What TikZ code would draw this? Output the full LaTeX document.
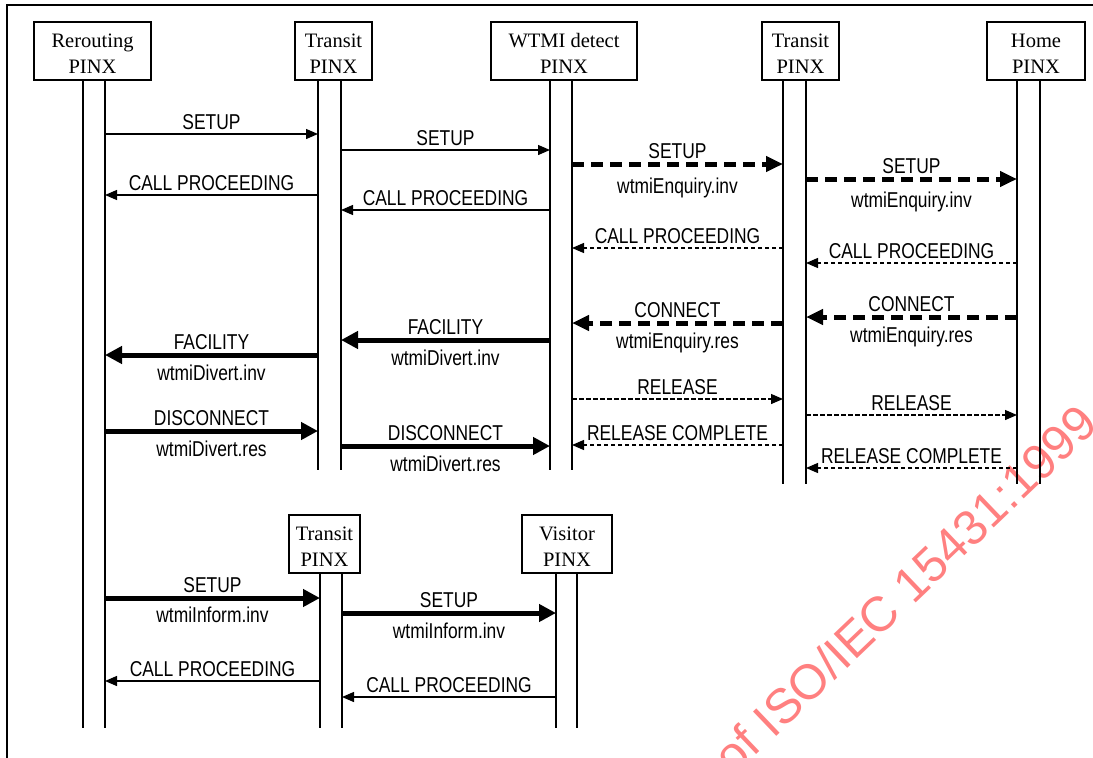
\documentclass[tikz,border=0pt]{standalone}
\usepackage{fontspec}
\setmainfont{Liberation Serif}
\newfontfamily\msgfont[FakeStretch=0.81]{Liberation Sans}
\newfontfamily\wmfont{Liberation Sans}
\usetikzlibrary{arrows.meta,calc}
\definecolor{wmred}{RGB}{255,128,128}
\tikzset{
  pinx/.style={draw, line width=2pt, inner sep=0pt, align=center,
    minimum height=58pt, text height=45pt, text depth=0pt,
    font=\fontsize{20.5}{26}\selectfont},
  life/.style={line width=1.8pt},
  thinmsg/.style={line width=1.3pt, -{Triangle[length=12pt,width=10pt]}},
  thinmsgdash/.style={thinmsg, dash pattern=on 4.5pt off 2.5pt},
  thickmsg/.style={line width=5pt, -{Triangle[length=17pt,width=17pt]}},
  thickmsgdash/.style={line width=5pt, dash pattern=on 12pt off 7pt,
    -{Triangle[length=17pt,width=15pt]}},
  lab/.style={font=\msgfont\fontsize{21.5}{24}\selectfont, inner sep=0pt, anchor=base},
  frame/.style={line width=2.4pt},
}
% one-label message: name, style, from, to, y, text
\newcommand\msgA[6]{%
  \draw[#2] (#3 |- 0,#5) -- coordinate[midway] (#1m) (#4 |- 0,#5);
  \node[lab, yshift=5pt] (#1u) at (#1m) {#6};
}
% two-label message: name, style, from, to, y, upper, lower, lower offset
\newcommand\msgB[8]{%
  \draw[#2] (#3 |- 0,#5) -- coordinate[midway] (#1m) (#4 |- 0,#5);
  \node[lab, yshift=6pt] (#1u) at (#1m) {#6};
  \node[lab, yshift=-#8pt] (#1l) at (#1m) {#7};
}
\begin{document}
\begin{tikzpicture}[x=1pt, y=-1pt]
\useasboundingbox (0,0) rectangle (1093,758);
\begin{scope}
\clip (0,0) rectangle (1093,758);
% watermark
\node[rotate=43.7, text=wmred, font=\wmfont\fontsize{49}{53}\selectfont, inner sep=0pt] (wm) at (905,589) {of ISO/IEC 15431:1999};
% frame
\draw[frame] (7,760) -- (7,5) -- (1095,5);
\end{scope}

% boxes
\node[pinx, minimum width=117pt] (R)  at (92.5,51) {Rerouting\\PINX};
\node[pinx, minimum width=77pt]  (T1) at (333.5,51) {Transit\\PINX};
\node[pinx, minimum width=146pt] (W)  at (564,51) {WTMI detect\\PINX};
\node[pinx, minimum width=77pt]  (T2) at (800.5,51) {Transit\\PINX};
\node[pinx, minimum width=98pt]  (H)  at (1036,51) {Home\\PINX};
\node[pinx, minimum width=71pt]  (T3) at (324.5,544) {Transit\\PINX};
\node[pinx, minimum width=90pt]  (V)  at (567,544) {Visitor\\PINX};

% lifeline coordinates
\coordinate (Ra) at (83,80);   \coordinate (Rb) at (105,80);
\coordinate (T1a) at (318,80); \coordinate (T1b) at (341,80);
\coordinate (Wa) at (550,80);  \coordinate (Wb) at (572,80);
\coordinate (T2a) at (783,80); \coordinate (T2b) at (806,80);
\coordinate (Ha) at (1017,80); \coordinate (Hb) at (1040,80);
\coordinate (T3a) at (320,573); \coordinate (T3b) at (342,573);
\coordinate (Va) at (556,573);  \coordinate (Vb) at (577,573);

\foreach \c in {Ra,Rb} \draw[life] (\c) -- (\c |- 0,728);
\foreach \c in {T1a,T1b,Wa,Wb} \draw[life] (\c) -- (\c |- 0,470);
\foreach \c in {T2a,T2b,Ha,Hb} \draw[life] (\c) -- (\c |- 0,484);
\foreach \c in {T3a,T3b,Va,Vb} \draw[life] (\c) -- (\c |- 0,728);

% messages, upper section
\msgA{m1}{thinmsg}{Rb}{T1a}{134}{SETUP}
\msgA{m2}{thinmsg}{T1b}{Wa}{150}{SETUP}
\msgB{m3}{thickmsgdash}{Wb}{T2a}{164}{SETUP}{wtmiEnquiry.inv}{29}
\msgB{m4}{thickmsgdash}{T2b}{Ha}{179}{SETUP}{wtmiEnquiry.inv}{28}
\msgA{m5}{thinmsg}{T1a}{Rb}{195}{CALL PROCEEDING}
\msgA{m6}{thinmsg}{Wa}{T1b}{210}{CALL PROCEEDING}
\msgA{m7}{thinmsgdash}{T2a}{Wb}{248}{CALL PROCEEDING}
\msgA{m8}{thinmsgdash}{Ha}{T2b}{263}{CALL PROCEEDING}
\msgB{m9}{thickmsgdash}{Ha}{T2b}{317}{CONNECT}{wtmiEnquiry.res}{25}
\msgB{m10}{thickmsgdash}{T2a}{Wb}{323}{CONNECT}{wtmiEnquiry.res}{25}
\msgB{m11}{thickmsg}{Wa}{T1b}{340}{FACILITY}{wtmiDivert.inv}{25}
\msgB{m12}{thickmsg}{T1a}{Rb}{355}{FACILITY}{wtmiDivert.inv}{25}
\msgA{m13}{thinmsgdash}{Wb}{T2a}{399}{RELEASE}
\msgA{m14}{thinmsgdash}{T2b}{Ha}{415}{RELEASE}
\msgB{m15}{thickmsg}{Rb}{T1a}{431}{DISCONNECT}{wtmiDivert.res}{25}
\msgB{m16}{thickmsg}{T1b}{Wa}{446}{DISCONNECT}{wtmiDivert.res}{25}
\msgA{m17}{thinmsgdash}{T2a}{Wb}{445}{RELEASE COMPLETE}
\msgA{m18}{thinmsgdash}{Ha}{T2b}{468}{RELEASE COMPLETE}

% messages, lower section
\msgB{m19}{thickmsg}{Rb}{T3a}{598}{SETUP}{wtmiInform.inv}{24}
\msgB{m20}{thickmsg}{T3b}{Va}{613}{SETUP}{wtmiInform.inv}{25}
\msgA{m21}{thinmsg}{T3a}{Rb}{681}{CALL PROCEEDING}
\msgA{m22}{thinmsg}{Va}{T3b}{697}{CALL PROCEEDING}
\end{tikzpicture}
\end{document}
